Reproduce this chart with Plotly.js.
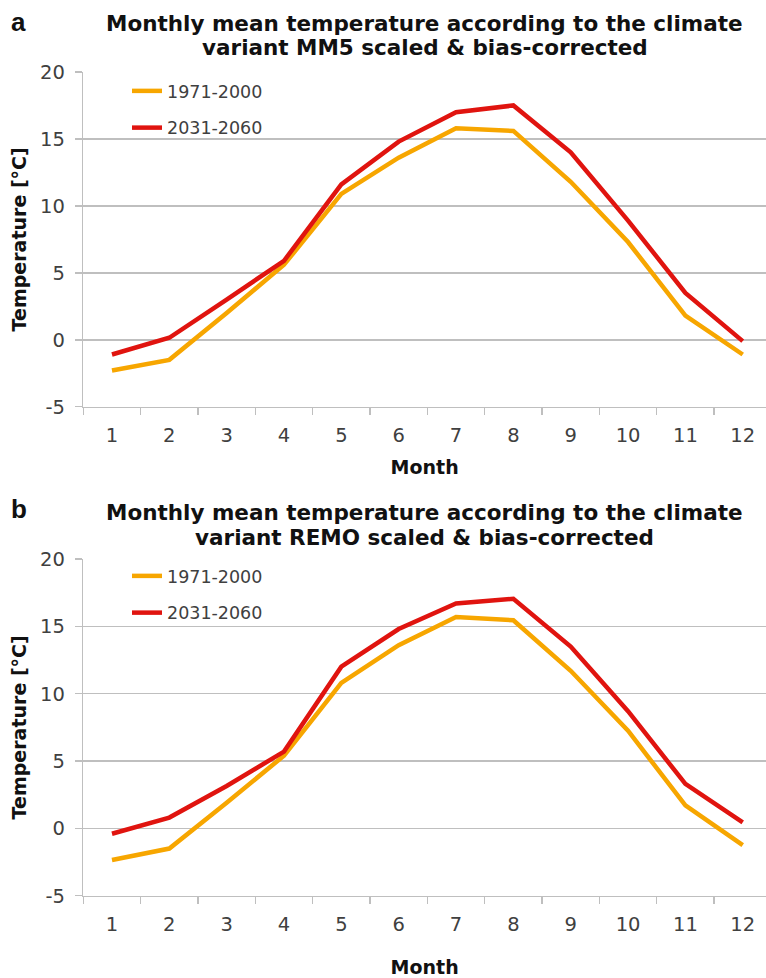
<!DOCTYPE html>
<html>
<head>
<meta charset="utf-8">
<script src="https://cdn.plot.ly/plotly-3.0.1.min.js"></script>
<style>
html,body{margin:0;padding:0;background:#fff;overflow:hidden;}
#chart{width:766px;height:978px;}
</style>
</head>
<body>
<div id="chart"></div>
<script>
// ---- data ----
const months = ['1','2','3','4','5','6','7','8','9','10','11','12'];
const seriesNames = ['1971-2000', '2031-2060'];
const mm5Hist  = [-2.3, -1.5, 2.0, 5.6, 10.9, 13.6, 15.8, 15.6, 11.8, 7.3, 1.8, -1.1];
const mm5Fut   = [-1.1, 0.15, 3.0, 5.9, 11.6, 14.8, 17.0, 17.5, 14.0, 8.9, 3.5, -0.1];
const remoHist = [-2.35, -1.5, 1.9, 5.4, 10.8, 13.6, 15.7, 15.45, 11.7, 7.25, 1.7, -1.25];
const remoFut  = [-0.4, 0.8, 3.15, 5.7, 12.0, 14.8, 16.7, 17.05, 13.5, 8.7, 3.3, 0.45];
const yTicks = [-5, 0, 5, 10, 15, 20];
const yTickText = ['-5', '0', '5', '10', '15', '20'];
const titleA = ['Monthly mean temperature according to the climate', 'variant MM5 scaled & bias-corrected'];
const titleB = ['Monthly mean temperature according to the climate', 'variant REMO scaled & bias-corrected'];

// ---- styles ----
const H = 978, W = 766;
const ORANGE = '#F7A600', RED = '#E0140F';
const GRID = '#BFBFBF', TICKC = '#404040';
const py = p => 1 - p / H;

function mkTrace(y, name, color, xa, ya, leg, grp) {
  return {x: months, y: y, name: name, type: 'scatter', mode: 'lines',
    line: {color: color, width: 4.5}, xaxis: xa, yaxis: ya, legend: leg,
    legendgroup: grp, hoverinfo: 'x+y'};
}
const data = [
  mkTrace(mm5Hist, seriesNames[0], ORANGE, 'x', 'y', 'legend', 'a1'),
  mkTrace(mm5Fut, seriesNames[1], RED, 'x', 'y', 'legend', 'a2'),
  mkTrace(remoHist, seriesNames[0], ORANGE, 'x2', 'y2', 'legend2', 'b1'),
  mkTrace(remoFut, seriesNames[1], RED, 'x2', 'y2', 'legend2', 'b2')
];

const xDom = [83.3 / W, 1];
function xAxis(anchor, standoff) {
  return {domain: xDom, anchor: anchor, type: 'category', range: [-0.5, 11.406],
    autorange: false, tickson: 'boundaries', ticks: 'outside', ticklen: 7,
    tickwidth: 1.5, tickcolor: GRID, showline: true, linecolor: GRID, linewidth: 1.5,
    showgrid: false, zeroline: false, ticklabelstandoff: 10,
    tickfont: {family: 'DejaVu Sans', size: 19.5, color: TICKC},
    title: {text: 'Month', standoff: standoff,
      font: {family: 'DejaVu Sans', size: 19, weight: 'bold', color: '#111'}}};
}
function yAxis(anchor, dom) {
  return {domain: dom, anchor: anchor, range: [-5, 20], autorange: false,
    tickvals: yTicks, ticktext: yTickText, ticks: 'outside', ticklen: 7,
    tickwidth: 1.5, tickcolor: GRID,
    showline: true, linecolor: GRID, linewidth: 1.5, showgrid: true,
    gridcolor: GRID, gridwidth: 1.5, zeroline: false, ticklabelstandoff: 6,
    tickfont: {family: 'DejaVu Sans', size: 19.5, color: TICKC},
    title: {text: 'Temperature [°C]', standoff: 8,
      font: {family: 'DejaVu Sans', size: 19, weight: 'bold', color: '#111'}}};
}
function legendAt(topPx) {
  return {x: 127 / W, xanchor: 'left', y: py(topPx), yanchor: 'top',
    bgcolor: 'rgba(0,0,0,0)', borderwidth: 0, tracegroupgap: 11,
    font: {family: 'DejaVu Sans', size: 17.5, color: TICKC}};
}
function titleAnn(text, yPx) {
  return {text: text, xref: 'paper', yref: 'paper', x: 424.5 / W, y: py(yPx),
    xanchor: 'center', yanchor: 'middle', showarrow: false,
    font: {family: 'DejaVu Sans', size: 21.5, weight: 'bold', color: '#111'}};
}
function panelAnn(text, yPx) {
  return {text: text, xref: 'paper', yref: 'paper', x: 9 / W, y: py(yPx),
    xanchor: 'left', yanchor: 'middle', showarrow: false,
    font: {family: 'Liberation Sans', size: 26, weight: 'bold', color: '#111'}};
}

const layout = {
  width: W, height: H, margin: {l: 0, r: 0, t: 0, b: 0},
  paper_bgcolor: '#fff', plot_bgcolor: '#fff', showlegend: true,
  xaxis: xAxis('y', 15), yaxis: yAxis('x', [py(406.7), py(72)]),
  xaxis2: xAxis('y2', 30), yaxis2: yAxis('x2', [py(895.7), py(559)]),
  legend: legendAt(73), legend2: legendAt(558),
  annotations: [
    panelAnn('a', 22), titleAnn(titleA[0], 23), titleAnn(titleA[1], 47.5),
    panelAnn('b', 509), titleAnn(titleB[0], 512.5), titleAnn(titleB[1], 537.5)
  ]
};
Plotly.newPlot('chart', data, layout, {displayModeBar: false, staticPlot: true});
</script>
</body>
</html>
